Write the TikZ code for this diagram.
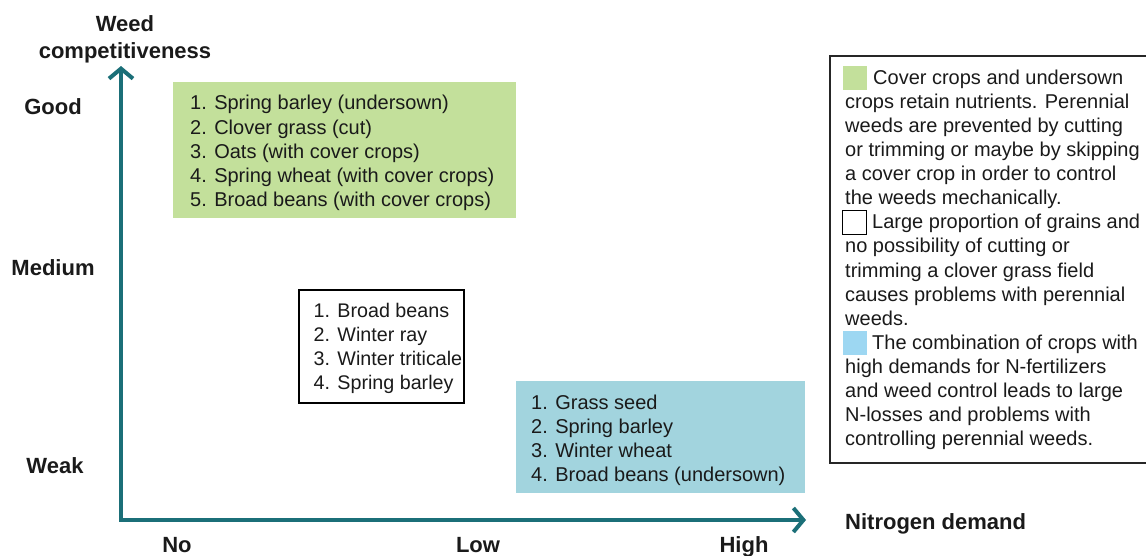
\documentclass[tikz,border=0pt]{standalone}
\usepackage{fontspec}
\setmainfont{Liberation Sans}
\usetikzlibrary{arrows.meta}
\definecolor{axisc}{HTML}{1B6F78}
\definecolor{greenc}{HTML}{C3E09B}
\definecolor{bluec}{HTML}{A2D4DE}
\definecolor{legblue}{HTML}{9DD7F2}
\definecolor{txt}{HTML}{1A1A1A}
\begin{document}
\begin{tikzpicture}[x=1pt,y=-1pt,
  axislabel/.style={font=\fontsize{22}{27}\selectfont\bfseries, text=txt, inner sep=0pt, align=center},
  listbox/.style={anchor=north west, inner sep=0pt},
  listtext/.style={anchor=west, inner sep=0pt, align=left, text=txt, font=\fontsize{20}{24.2}\selectfont},
  axisline/.style={draw=axisc, line width=4pt, line join=miter,
     {Straight Barb[length=10pt,width=24pt]}-{Straight Barb[length=10pt,width=24pt]}},
  legsq/.style={anchor=north west, inner sep=0pt, minimum width=24pt, minimum height=24pt}
]
\useasboundingbox (0,0) rectangle (1146,555);

% axes
\coordinate (ytip) at (121,66);
\coordinate (origin) at (121,520);
\coordinate (xtip) at (806,520);
\draw[axisline] (ytip) -- (origin) -- (xtip);

% axis labels
\node[axislabel] (ylab) at (125,39) {Weed\\competitiveness};
\node[axislabel] (good) at (53,107) {Good};
\node[axislabel] (medium) at (53,268) {Medium};
\node[axislabel] (weak) at (55,466) {Weak};
\node[axislabel, anchor=base] (no) at (177,552.5) {No};
\node[axislabel, anchor=base] (low) at (478,552.5) {Low};
\node[axislabel, anchor=base] (high) at (744,552.5) {High};
\node[axislabel, anchor=base west] (xlab) at (845,529) {Nitrogen demand};

% boxes
\node[listbox, fill=greenc, minimum width=343pt, minimum height=136pt] (green) at (173,82) {};
\node[listtext] (greentext) at ([xshift=17pt,yshift=-3pt]green.west) {1. Spring barley (undersown)\\2. Clover grass (cut)\\3. Oats (with cover crops)\\4. Spring wheat (with cover crops)\\5. Broad beans (with cover crops)};

\node[listbox, draw=black, line width=1.5pt, fill=white, minimum width=165pt, minimum height=113pt] (white) at (298,289) {};
\node[listtext, font=\fontsize{19.7}{24.2}\selectfont] (whitetext) at ([xshift=15.5pt,yshift=-2pt]white.west) {1. Broad beans\\2. Winter ray\\3. Winter triticale\\4. Spring barley};

\node[listbox, fill=bluec, minimum width=289pt, minimum height=112pt] (blue) at (516,381) {};
\node[listtext] (bluetext) at ([xshift=15pt,yshift=-3pt]blue.west) {1. Grass seed\\2. Spring barley\\3. Winter wheat\\4. Broad beans (undersown)};

% legend
\node[listbox, draw=black!85, line width=1.5pt, minimum width=330pt, minimum height=407pt] (legend) at (829,55) {};
\node[legsq, fill=greenc] (sqg) at (843,66) {};
\node[legsq, draw=black, line width=1.2pt] (sqw) at (842,210) {};
\node[legsq, fill=legblue] (sqb) at (843,331) {};
\node[anchor=north west, inner sep=0pt, align=left, text=txt, font=\fontsize{20}{24.1}\selectfont] (legtext) at (845,69.5)
{\hspace*{28pt}Cover crops and undersown\\
crops retain nutrients.  Perennial\\
weeds are prevented by cutting\\
or trimming or maybe by skipping\\
a cover crop in order to control\\
the weeds mechanically.\\
\hspace*{27pt}Large proportion of grains and\\
no possibility of cutting or\\
trimming a clover grass field\\
causes problems with perennial\\
weeds.\\
\hspace*{27pt}The combination of crops with\\
high demands for N-fertilizers\\
and weed control leads to large\\
N-losses and problems with\\
controlling perennial weeds.};
\end{tikzpicture}
\end{document}
